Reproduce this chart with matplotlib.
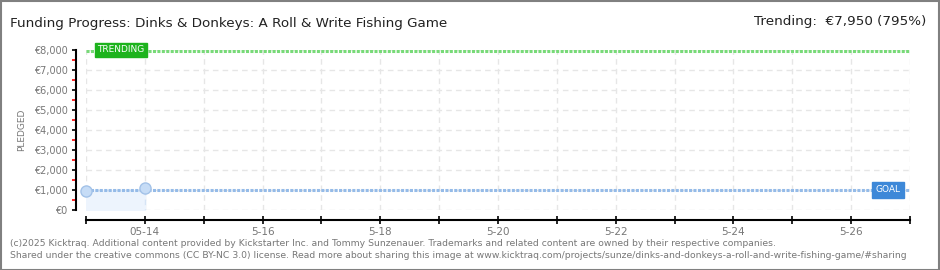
import matplotlib.pyplot as plt
import matplotlib.dates as mdates
import datetime as dt

# data
pledge_days = [dt.date(2025, 5, 13), dt.date(2025, 5, 14)]
pledged = [960, 1080]
goal = 1000
trending = 7950
x_start = dt.date(2025, 5, 13)
x_end = dt.date(2025, 5, 27)
y_ticks = [0, 1000, 2000, 3000, 4000, 5000, 6000, 7000, 8000]
y_labels = ["€0", "€1,000", "€2,000", "€3,000", "€4,000", "€5,000", "€6,000", "€7,000", "€8,000"]
x_label_days = [14, 16, 18, 20, 22, 24, 26]
x_labels = ["05-14", "5-16", "5-18", "5-20", "5-22", "5-24", "5-26"]

title = "Funding Progress: Dinks & Donkeys: A Roll & Write Fishing Game"
trend_txt = "Trending:  €7,950 (795%)"
footer1 = ("(c)2025 Kicktraq. Additional content provided by Kickstarter Inc. and Tommy Sunzenauer. "
           "Trademarks and related content are owned by their respective companies.")
footer2 = ("Shared under the creative commons (CC BY-NC 3.0) license. Read more about sharing this image at "
           "www.kicktraq.com/projects/sunze/dinks-and-donkeys-a-roll-and-write-fishing-game/#sharing")

W, H = 940, 270
fig = plt.figure(figsize=(W / 100, H / 100), dpi=100)
fig.patch.set_facecolor("white")

# grey frame around the image
frame = plt.Rectangle((0.5 / W, 0.5 / H), 1 - 1.5 / W, 1 - 1.5 / H, transform=fig.transFigure,
                      fill=False, edgecolor="#808080", linewidth=1.5)
fig.patches.append(frame)

ax = fig.add_axes([86 / W, (H - 210) / H, (910 - 86) / W, 160 / H])
ax.set_xlim(mdates.date2num(x_start), mdates.date2num(x_end))
ax.set_ylim(0, 8000)

grey = "#777777"
# grid
days = [x_start + dt.timedelta(days=i) for i in range(15)]
for d in days:
    ax.axvline(mdates.date2num(d), color="#e6e6e6", lw=1, ls=(0, (4, 3)), zorder=0)
for v in y_ticks:
    ax.axhline(v, color="#e6e6e6", lw=1, ls=(0, (4, 3)), zorder=0)

# pledged area + points
px = mdates.date2num(pledge_days)
ax.fill_between(px, 0, [1000, 1000], color="#edf4fd", zorder=1)
ax.plot([px[0], px[1], px[1]], [1000, 1000, 0], color="#d6e4f5", lw=1, ls=(0, (4, 3)), zorder=1)

# goal & trending lines
ax.axhline(goal, color="#95bbe8", lw=2.2, ls=(0, (1.0, 0.45)), zorder=2)
ax.axhline(trending, color="#78da78", lw=2.2, ls=(0, (1.0, 0.45)), zorder=2)
ax.plot(px, pledged, "o", ms=8, mfc="#c6dcf6", mec="#a3c2e8", mew=1, zorder=3, clip_on=False)

# boxes
fig.text(121 / W, (H - 50) / H, "TRENDING", color="white", fontsize=6.5, ha="center", va="center",
         bbox=dict(boxstyle="square,pad=0.3", fc="#1db31d", ec="#1db31d"))
fig.text(888 / W, (H - 190) / H, "GOAL", color="white", fontsize=6.5, ha="center", va="center",
         bbox=dict(boxstyle="square,pad=0.35", fc="#3d88d8", ec="#3d88d8"))

# spines
for s in ["top", "right"]:
    ax.spines[s].set_visible(False)
ax.spines["left"].set_position(("outward", 7.2))
ax.spines["bottom"].set_position(("outward", 7.2))
ax.spines["left"].set_linewidth(1.5)
ax.spines["bottom"].set_linewidth(1.5)

ax.set_yticks(y_ticks)
ax.set_yticklabels(y_labels)
ax.set_yticks([500 + 1000 * i for i in range(8)], minor=True)
ax.tick_params(axis="y", which="major", length=3, width=1.2, color="black", labelsize=7,
               labelcolor=grey, pad=3)
ax.tick_params(axis="y", which="minor", length=3, width=1.2, color="red")

ax.set_xticks([mdates.date2num(dt.date(2025, 5, d)) for d in x_label_days])
ax.set_xticklabels(x_labels)
ax.set_xticks([mdates.date2num(dt.date(2025, 5, d)) for d in range(13, 28, 2)], minor=True)
ax.tick_params(axis="x", which="both", direction="inout", length=6, width=1.2, color="black",
               labelsize=7.5, labelcolor=grey, pad=2)

ax.set_ylabel("PLEDGED", color=grey, fontsize=6.5)
ax.yaxis.set_label_coords(-60 / 824, 0.5)

fig.text(10 / W, 1 - 23 / H, title, fontsize=9.7, color="#222222", va="center")
fig.text(926 / W, 1 - 22 / H, trend_txt, fontsize=9.7, color="#222222", va="center", ha="right")
fig.text(10 / W, 1 - 243 / H, footer1, fontsize=6.7, color=grey, va="center")
fig.text(10 / W, 1 - 256 / H, footer2, fontsize=6.7, color=grey, va="center")

fig.savefig("out.png", dpi=100, facecolor="white")
